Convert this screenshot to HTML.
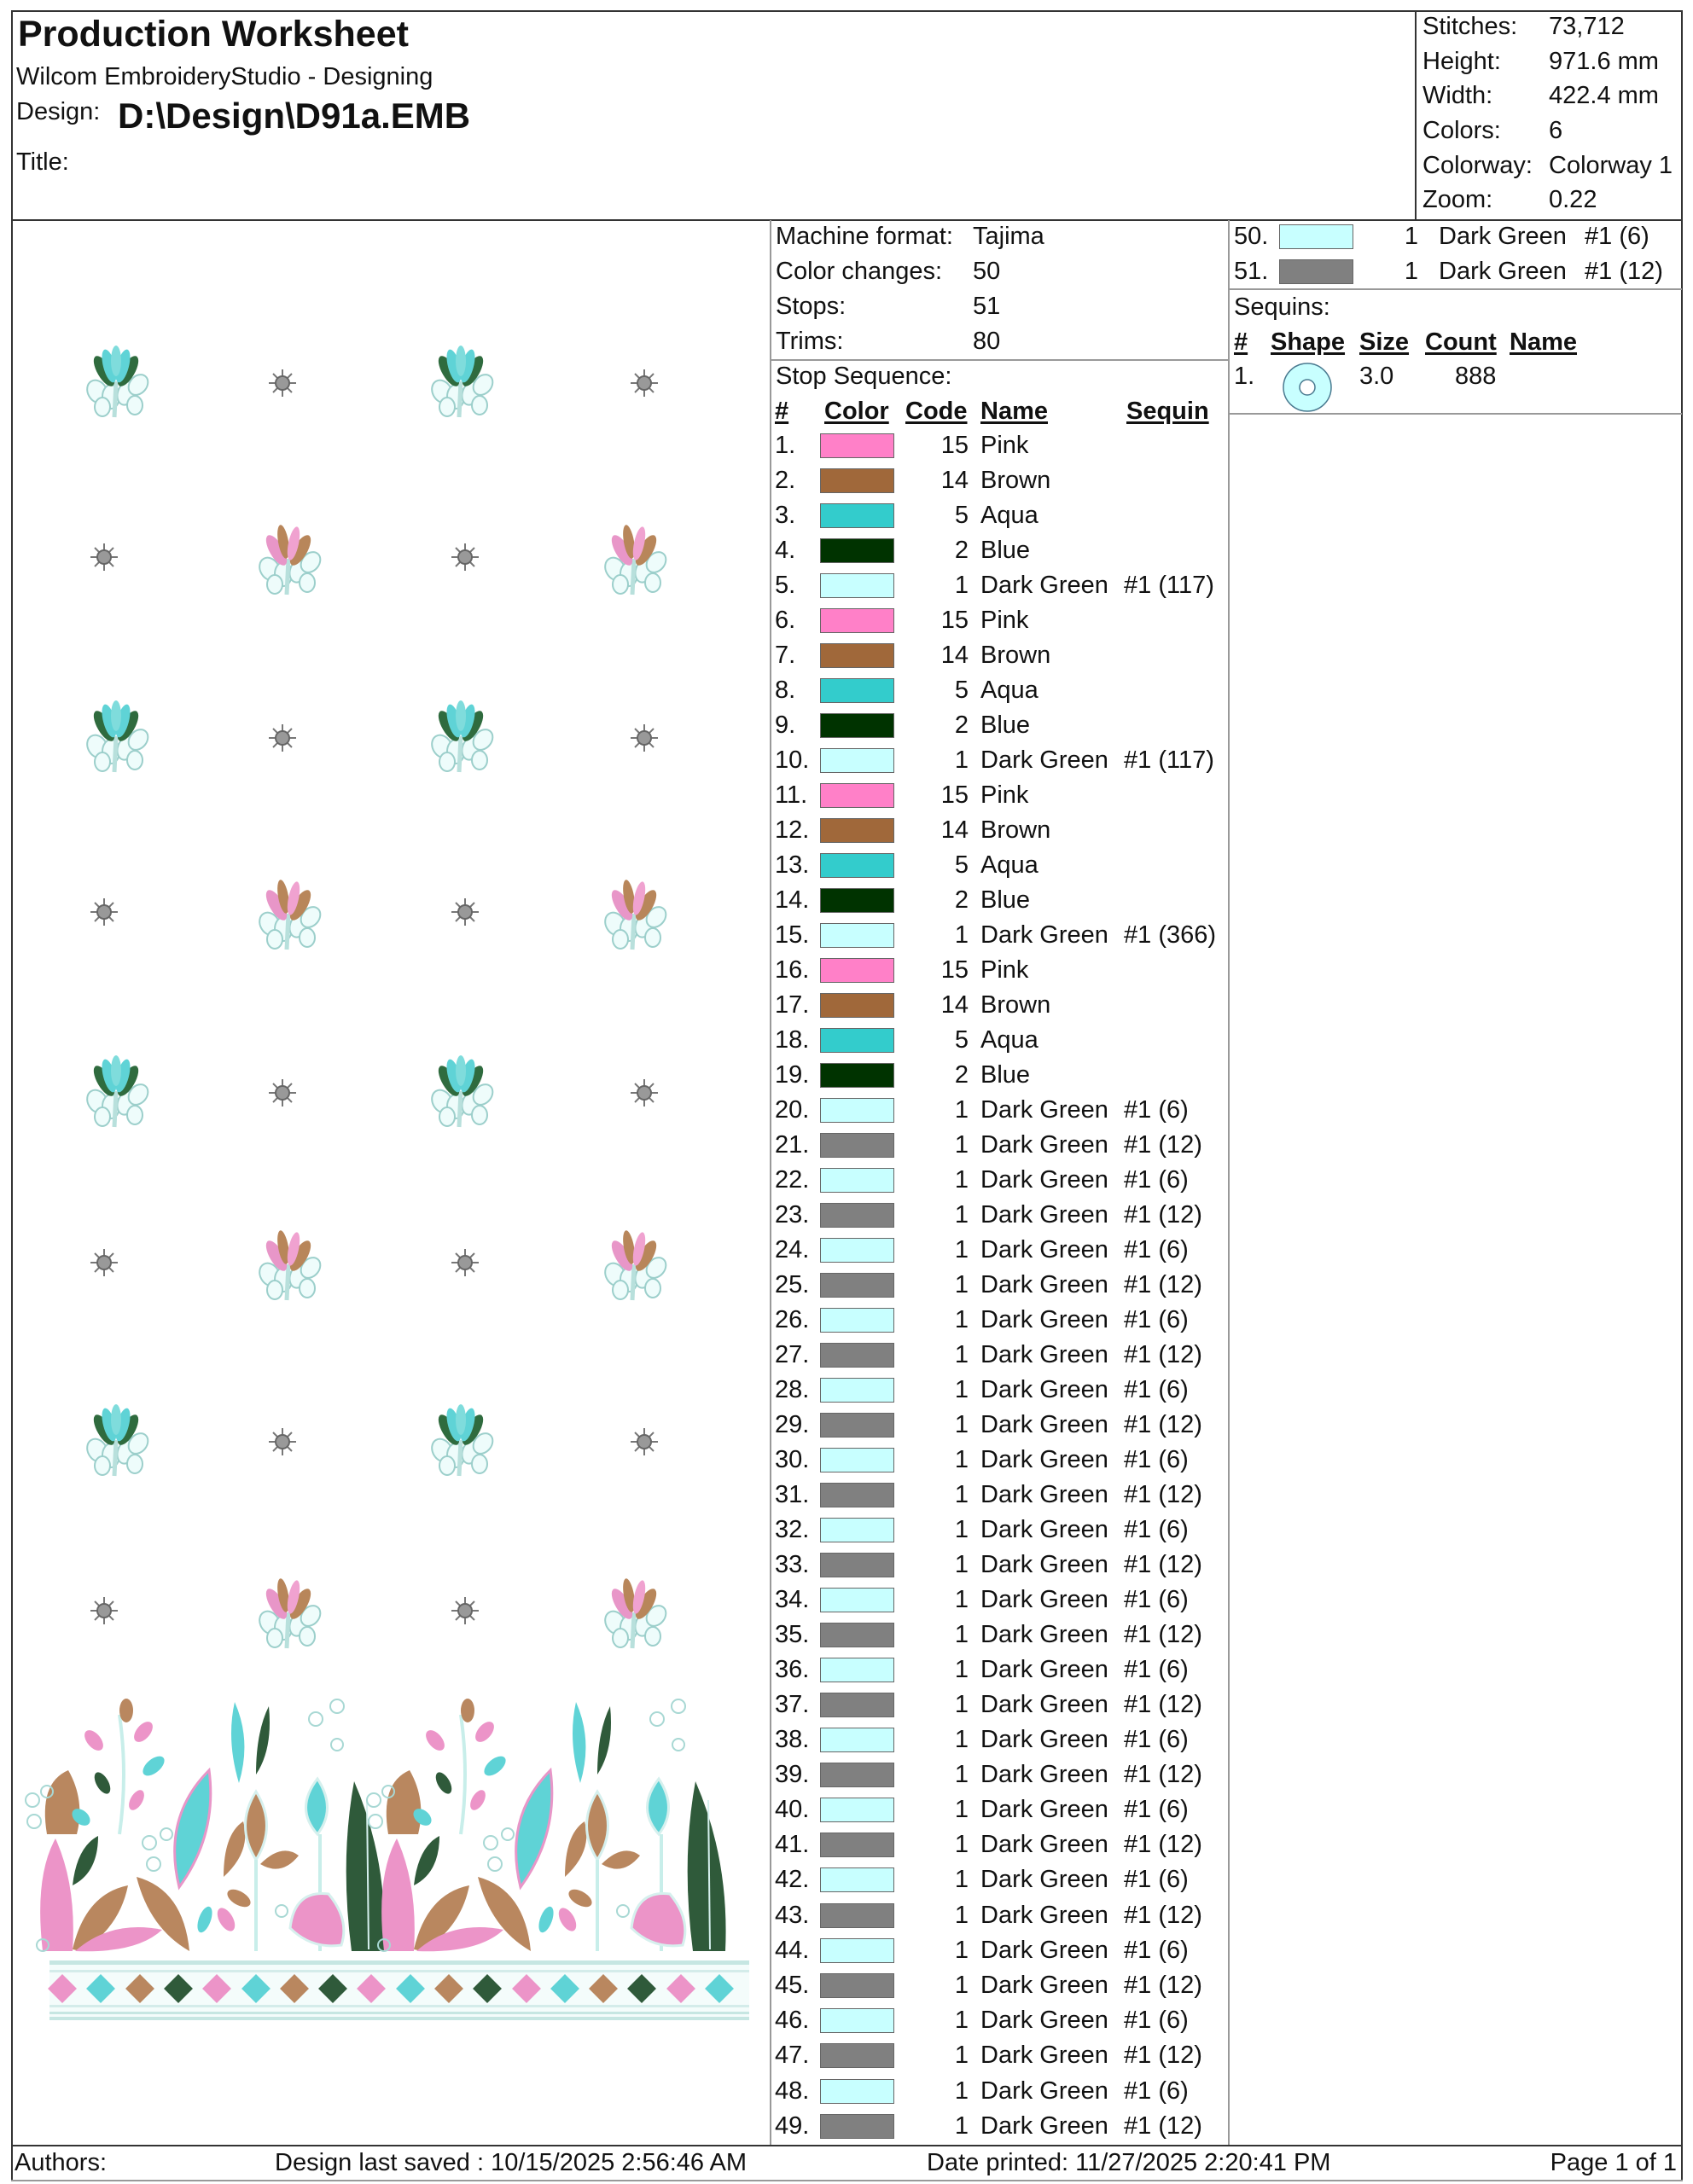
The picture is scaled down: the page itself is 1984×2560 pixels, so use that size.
<!DOCTYPE html>
<html><head><meta charset="utf-8"><style>
html,body{margin:0;padding:0;background:#fff}
body{width:1984px;height:2560px;position:relative;overflow:hidden;font-family:"Liberation Sans",Arial,sans-serif;color:#111}
.t{position:absolute;white-space:nowrap;font-size:29px;line-height:41px}
.ln{position:absolute;background:#333}
.lg{position:absolute;background:#999}
.r{position:absolute;left:0;width:1984px;height:41px;font-size:29px;line-height:41px}
.r span{position:absolute;white-space:nowrap}
.r .n{left:908px}.r .c{left:1075px;width:60px;text-align:right}.r .nm{left:1149px}.r .sq{left:1317px}
.r i{position:absolute;left:961px;top:6px;width:85px;height:27px;border:1px solid #666}
.rr .n{left:1446px}.rr i{left:1499px}.rr .c{left:1602px}.rr .nm{left:1686px}.rr .sq{left:1857px}
.P{background:#ff80c8}.B{background:#a0683a}.A{background:#33cccc}.G{background:#003300}.L{background:#c8ffff}.D{background:#808080}
.h{font-weight:bold;text-decoration:underline;text-decoration-thickness:3px;text-underline-offset:3px}
</style></head><body>
<div class="ln" style="left:13px;top:12px;width:1959px;height:2px"></div>
<div class="ln" style="left:13px;top:12px;width:2px;height:2544px"></div>
<div class="ln" style="left:1970px;top:12px;width:2px;height:2544px"></div>
<div class="ln" style="left:13px;top:257px;width:1959px;height:2px"></div>
<div class="ln" style="left:1658px;top:12px;width:2px;height:246px"></div>
<div class="ln" style="left:13px;top:2514px;width:1959px;height:2px"></div>
<div class="lg" style="left:13px;top:2555px;width:1959px;height:2px"></div>
<div class="lg" style="left:902px;top:258px;width:2px;height:2256px"></div>
<div class="lg" style="left:1439px;top:258px;width:2px;height:2256px"></div>
<div class="lg" style="left:903px;top:421px;width:537px;height:2px"></div>
<div class="lg" style="left:1440px;top:338px;width:531px;height:2px"></div>
<div class="lg" style="left:1440px;top:484px;width:531px;height:2px"></div>

<div class="t" style="left:21px;top:14px;font-size:43px;line-height:52px;font-weight:bold">Production Worksheet</div>
<div class="t" style="left:19px;top:70px">Wilcom EmbroideryStudio - Designing</div>
<div class="t" style="left:19px;top:111px">Design:</div>
<div class="t" style="left:138px;top:111px;font-size:42px;line-height:50px;font-weight:bold">D:\Design\D91a.EMB</div>
<div class="t" style="left:19px;top:170px">Title:</div>

<div class="t" style="left:1667px;top:11px">Stitches:</div><div class="t" style="left:1815px;top:11px">73,712</div>
<div class="t" style="left:1667px;top:52px">Height:</div><div class="t" style="left:1815px;top:52px">971.6 mm</div>
<div class="t" style="left:1667px;top:92px">Width:</div><div class="t" style="left:1815px;top:92px">422.4 mm</div>
<div class="t" style="left:1667px;top:133px">Colors:</div><div class="t" style="left:1815px;top:133px">6</div>
<div class="t" style="left:1667px;top:174px">Colorway:</div><div class="t" style="left:1815px;top:174px">Colorway 1</div>
<div class="t" style="left:1667px;top:214px">Zoom:</div><div class="t" style="left:1815px;top:214px">0.22</div>

<div class="t" style="left:909px;top:257px">Machine format:</div><div class="t" style="left:1140px;top:257px">Tajima</div>
<div class="t" style="left:909px;top:298px">Color changes:</div><div class="t" style="left:1140px;top:298px">50</div>
<div class="t" style="left:909px;top:339px">Stops:</div><div class="t" style="left:1140px;top:339px">51</div>
<div class="t" style="left:909px;top:380px">Trims:</div><div class="t" style="left:1140px;top:380px">80</div>
<div class="t" style="left:909px;top:421px">Stop Sequence:</div>
<div class="t h" style="left:908px;top:462px">#</div>
<div class="t h" style="left:966px;top:462px">Color</div>
<div class="t h" style="left:1061px;top:462px">Code</div>
<div class="t h" style="left:1149px;top:462px">Name</div>
<div class="t h" style="left:1320px;top:462px">Sequin</div>

<div class="r rr" style="top:257px"><span class="n">50.</span><i class="L"></i><span class="c">1</span><span class="nm">Dark Green</span><span class="sq">#1 (6)</span></div>
<div class="r rr" style="top:298px"><span class="n">51.</span><i class="D"></i><span class="c">1</span><span class="nm">Dark Green</span><span class="sq">#1 (12)</span></div>
<div class="t" style="left:1446px;top:340px">Sequins:</div>
<div class="t h" style="left:1446px;top:381px">#</div>
<div class="t h" style="left:1489px;top:381px">Shape</div>
<div class="t h" style="left:1593px;top:381px">Size</div>
<div class="t h" style="left:1670px;top:381px">Count</div>
<div class="t h" style="left:1769px;top:381px">Name</div>
<div class="t" style="left:1446px;top:421px">1.</div>
<div class="t" style="left:1593px;top:421px">3.0</div>
<div class="t" style="left:1705px;top:421px">888</div>
<svg style="position:absolute;left:1500px;top:423px" width="64" height="62"><ellipse cx="32" cy="31" rx="28" ry="28" fill="#c8ffff" stroke="#4a7a90" stroke-width="1.5"/><circle cx="32" cy="31" r="9" fill="#fff" stroke="#4a7a90" stroke-width="1.5"/></svg>

<div class="r" style="top:502px"><span class="n">1.</span><i class="P"></i><span class="c">15</span><span class="nm">Pink</span></div>
<div class="r" style="top:543px"><span class="n">2.</span><i class="B"></i><span class="c">14</span><span class="nm">Brown</span></div>
<div class="r" style="top:584px"><span class="n">3.</span><i class="A"></i><span class="c">5</span><span class="nm">Aqua</span></div>
<div class="r" style="top:625px"><span class="n">4.</span><i class="G"></i><span class="c">2</span><span class="nm">Blue</span></div>
<div class="r" style="top:666px"><span class="n">5.</span><i class="L"></i><span class="c">1</span><span class="nm">Dark Green</span><span class="sq">#1 (117)</span></div>
<div class="r" style="top:707px"><span class="n">6.</span><i class="P"></i><span class="c">15</span><span class="nm">Pink</span></div>
<div class="r" style="top:748px"><span class="n">7.</span><i class="B"></i><span class="c">14</span><span class="nm">Brown</span></div>
<div class="r" style="top:789px"><span class="n">8.</span><i class="A"></i><span class="c">5</span><span class="nm">Aqua</span></div>
<div class="r" style="top:830px"><span class="n">9.</span><i class="G"></i><span class="c">2</span><span class="nm">Blue</span></div>
<div class="r" style="top:871px"><span class="n">10.</span><i class="L"></i><span class="c">1</span><span class="nm">Dark Green</span><span class="sq">#1 (117)</span></div>
<div class="r" style="top:912px"><span class="n">11.</span><i class="P"></i><span class="c">15</span><span class="nm">Pink</span></div>
<div class="r" style="top:953px"><span class="n">12.</span><i class="B"></i><span class="c">14</span><span class="nm">Brown</span></div>
<div class="r" style="top:994px"><span class="n">13.</span><i class="A"></i><span class="c">5</span><span class="nm">Aqua</span></div>
<div class="r" style="top:1035px"><span class="n">14.</span><i class="G"></i><span class="c">2</span><span class="nm">Blue</span></div>
<div class="r" style="top:1076px"><span class="n">15.</span><i class="L"></i><span class="c">1</span><span class="nm">Dark Green</span><span class="sq">#1 (366)</span></div>
<div class="r" style="top:1117px"><span class="n">16.</span><i class="P"></i><span class="c">15</span><span class="nm">Pink</span></div>
<div class="r" style="top:1158px"><span class="n">17.</span><i class="B"></i><span class="c">14</span><span class="nm">Brown</span></div>
<div class="r" style="top:1199px"><span class="n">18.</span><i class="A"></i><span class="c">5</span><span class="nm">Aqua</span></div>
<div class="r" style="top:1240px"><span class="n">19.</span><i class="G"></i><span class="c">2</span><span class="nm">Blue</span></div>
<div class="r" style="top:1281px"><span class="n">20.</span><i class="L"></i><span class="c">1</span><span class="nm">Dark Green</span><span class="sq">#1 (6)</span></div>
<div class="r" style="top:1322px"><span class="n">21.</span><i class="D"></i><span class="c">1</span><span class="nm">Dark Green</span><span class="sq">#1 (12)</span></div>
<div class="r" style="top:1363px"><span class="n">22.</span><i class="L"></i><span class="c">1</span><span class="nm">Dark Green</span><span class="sq">#1 (6)</span></div>
<div class="r" style="top:1404px"><span class="n">23.</span><i class="D"></i><span class="c">1</span><span class="nm">Dark Green</span><span class="sq">#1 (12)</span></div>
<div class="r" style="top:1445px"><span class="n">24.</span><i class="L"></i><span class="c">1</span><span class="nm">Dark Green</span><span class="sq">#1 (6)</span></div>
<div class="r" style="top:1486px"><span class="n">25.</span><i class="D"></i><span class="c">1</span><span class="nm">Dark Green</span><span class="sq">#1 (12)</span></div>
<div class="r" style="top:1527px"><span class="n">26.</span><i class="L"></i><span class="c">1</span><span class="nm">Dark Green</span><span class="sq">#1 (6)</span></div>
<div class="r" style="top:1568px"><span class="n">27.</span><i class="D"></i><span class="c">1</span><span class="nm">Dark Green</span><span class="sq">#1 (12)</span></div>
<div class="r" style="top:1609px"><span class="n">28.</span><i class="L"></i><span class="c">1</span><span class="nm">Dark Green</span><span class="sq">#1 (6)</span></div>
<div class="r" style="top:1650px"><span class="n">29.</span><i class="D"></i><span class="c">1</span><span class="nm">Dark Green</span><span class="sq">#1 (12)</span></div>
<div class="r" style="top:1691px"><span class="n">30.</span><i class="L"></i><span class="c">1</span><span class="nm">Dark Green</span><span class="sq">#1 (6)</span></div>
<div class="r" style="top:1732px"><span class="n">31.</span><i class="D"></i><span class="c">1</span><span class="nm">Dark Green</span><span class="sq">#1 (12)</span></div>
<div class="r" style="top:1773px"><span class="n">32.</span><i class="L"></i><span class="c">1</span><span class="nm">Dark Green</span><span class="sq">#1 (6)</span></div>
<div class="r" style="top:1814px"><span class="n">33.</span><i class="D"></i><span class="c">1</span><span class="nm">Dark Green</span><span class="sq">#1 (12)</span></div>
<div class="r" style="top:1855px"><span class="n">34.</span><i class="L"></i><span class="c">1</span><span class="nm">Dark Green</span><span class="sq">#1 (6)</span></div>
<div class="r" style="top:1896px"><span class="n">35.</span><i class="D"></i><span class="c">1</span><span class="nm">Dark Green</span><span class="sq">#1 (12)</span></div>
<div class="r" style="top:1937px"><span class="n">36.</span><i class="L"></i><span class="c">1</span><span class="nm">Dark Green</span><span class="sq">#1 (6)</span></div>
<div class="r" style="top:1978px"><span class="n">37.</span><i class="D"></i><span class="c">1</span><span class="nm">Dark Green</span><span class="sq">#1 (12)</span></div>
<div class="r" style="top:2019px"><span class="n">38.</span><i class="L"></i><span class="c">1</span><span class="nm">Dark Green</span><span class="sq">#1 (6)</span></div>
<div class="r" style="top:2060px"><span class="n">39.</span><i class="D"></i><span class="c">1</span><span class="nm">Dark Green</span><span class="sq">#1 (12)</span></div>
<div class="r" style="top:2101px"><span class="n">40.</span><i class="L"></i><span class="c">1</span><span class="nm">Dark Green</span><span class="sq">#1 (6)</span></div>
<div class="r" style="top:2142px"><span class="n">41.</span><i class="D"></i><span class="c">1</span><span class="nm">Dark Green</span><span class="sq">#1 (12)</span></div>
<div class="r" style="top:2183px"><span class="n">42.</span><i class="L"></i><span class="c">1</span><span class="nm">Dark Green</span><span class="sq">#1 (6)</span></div>
<div class="r" style="top:2225px"><span class="n">43.</span><i class="D"></i><span class="c">1</span><span class="nm">Dark Green</span><span class="sq">#1 (12)</span></div>
<div class="r" style="top:2266px"><span class="n">44.</span><i class="L"></i><span class="c">1</span><span class="nm">Dark Green</span><span class="sq">#1 (6)</span></div>
<div class="r" style="top:2307px"><span class="n">45.</span><i class="D"></i><span class="c">1</span><span class="nm">Dark Green</span><span class="sq">#1 (12)</span></div>
<div class="r" style="top:2348px"><span class="n">46.</span><i class="L"></i><span class="c">1</span><span class="nm">Dark Green</span><span class="sq">#1 (6)</span></div>
<div class="r" style="top:2389px"><span class="n">47.</span><i class="D"></i><span class="c">1</span><span class="nm">Dark Green</span><span class="sq">#1 (12)</span></div>
<div class="r" style="top:2431px"><span class="n">48.</span><i class="L"></i><span class="c">1</span><span class="nm">Dark Green</span><span class="sq">#1 (6)</span></div>
<div class="r" style="top:2472px"><span class="n">49.</span><i class="D"></i><span class="c">1</span><span class="nm">Dark Green</span><span class="sq">#1 (12)</span></div>

<div class="t" style="left:17px;top:2515px">Authors:</div>
<div class="t" style="left:322px;top:2515px">Design last saved : 10/15/2025 2:56:46 AM</div>
<div class="t" style="left:1086px;top:2515px">Date printed: 11/27/2025 2:20:41 PM</div>
<div class="t" style="left:1815px;top:2515px;width:150px;text-align:right">Page 1 of 1</div>

<svg style="position:absolute;left:0;top:0" width="900" height="2510">
<defs>
<g id="loops" fill="#eefcfb" stroke="#9ccfcb" stroke-width="2">
 <ellipse cx="-22" cy="12" rx="11" ry="14" transform="rotate(-30 -22 12)"/>
 <ellipse cx="-6" cy="18" rx="10" ry="14"/>
 <ellipse cx="12" cy="14" rx="10" ry="14" transform="rotate(20 12 14)"/>
 <ellipse cx="26" cy="4" rx="10" ry="13" transform="rotate(40 26 4)"/>
 <ellipse cx="-16" cy="30" rx="9" ry="11"/>
 <ellipse cx="22" cy="28" rx="9" ry="11"/>
 <path d="M0 0 L-2 42" stroke="#b8e0dc" stroke-width="5" fill="none"/>
</g>
<g id="mt">
 <use href="#loops"/>
 <ellipse cx="-14" cy="-12" rx="8" ry="20" fill="#2f6b3e" transform="rotate(-30 -14 -12)"/>
 <ellipse cx="14" cy="-12" rx="8" ry="20" fill="#2f6b3e" transform="rotate(30 14 -12)"/>
 <ellipse cx="-8" cy="-18" rx="7" ry="20" fill="#5fd3d6" transform="rotate(-15 -8 -18)"/>
 <ellipse cx="8" cy="-18" rx="7" ry="20" fill="#5fd3d6" transform="rotate(15 8 -18)"/>
 <ellipse cx="0" cy="-24" rx="6" ry="18" fill="#7fdcdc"/>
</g>
<g id="mp">
 <use href="#loops"/>
 <ellipse cx="-14" cy="-10" rx="8" ry="20" fill="#e896c8" transform="rotate(-30 -14 -10)"/>
 <ellipse cx="14" cy="-10" rx="8" ry="20" fill="#b8865a" transform="rotate(30 14 -10)"/>
 <ellipse cx="-6" cy="-20" rx="6" ry="20" fill="#b8865a" transform="rotate(-10 -6 -20)"/>
 <ellipse cx="6" cy="-18" rx="6" ry="20" fill="#f0a2d0" transform="rotate(12 6 -18)"/>
</g>
<g id="dt" stroke="#777" stroke-width="2">
 <path d="M0 -16V16M-16 0H16M-11 -11L11 11M-11 11L11 -11"/>
 <circle r="8" fill="#999" stroke="#666"/>
</g>
<g id="fl">
 <path d="M55 2150 Q45 2090 80 2075 Q100 2110 90 2150Z" fill="#b9875f"/>
 <path d="M50 2287 Q40 2200 65 2155 Q90 2210 85 2287Z" fill="#ec94c8"/>
 <path d="M85 2285 Q100 2220 150 2210 Q140 2260 95 2287Z" fill="#b9875f"/>
 <path d="M88 2287 Q130 2250 190 2262 Q160 2290 88 2287Z" fill="#ec94c8"/>
 <path d="M85 2210 Q90 2165 115 2152 Q115 2195 85 2210Z" fill="#2f5a3a"/>
 <path d="M140 2150 Q150 2080 140 2010" stroke="#c8eeea" stroke-width="4" fill="none"/>
 <ellipse cx="110" cy="2040" rx="8" ry="14" fill="#ec94c8" transform="rotate(-40 110 2040)"/>
 <ellipse cx="148" cy="2005" rx="8" ry="14" fill="#b9875f"/>
 <ellipse cx="168" cy="2030" rx="8" ry="14" fill="#ec94c8" transform="rotate(40 168 2030)"/>
 <ellipse cx="180" cy="2070" rx="8" ry="15" fill="#5fd3d6" transform="rotate(50 180 2070)"/>
 <ellipse cx="120" cy="2090" rx="7" ry="14" fill="#2f5a3a" transform="rotate(-30 120 2090)"/>
 <ellipse cx="160" cy="2110" rx="7" ry="13" fill="#ec94c8" transform="rotate(30 160 2110)"/>
 <ellipse cx="95" cy="2130" rx="8" ry="12" fill="#5fd3d6" transform="rotate(-50 95 2130)"/>
 <path d="M210 2212 Q190 2130 245 2075 Q255 2150 210 2212Z" fill="#5fd3d6" stroke="#e896c8" stroke-width="3"/>
 <path d="M160 2200 Q215 2215 222 2287 Q175 2260 160 2200Z" fill="#b9875f"/>
 <path d="M280 2090 Q265 2040 275 1995 Q295 2040 280 2090Z" fill="#5fd3d6"/>
 <path d="M300 2080 Q300 2030 315 2000 Q320 2050 300 2080Z" fill="#2f5a3a"/>
 <path d="M262 2200 Q262 2150 285 2135 Q295 2170 262 2200Z" fill="#b9875f"/>
 <path d="M300 2180 Q275 2140 300 2100 Q325 2140 300 2180Z" fill="#b9875f" stroke="#d6f0ee" stroke-width="3"/>
 <path d="M305 2185 Q330 2160 350 2175 Q330 2200 305 2185Z" fill="#b9875f"/>
 <path d="M372 2150 Q345 2120 372 2085 Q395 2120 372 2150Z" fill="#5fd3d6" stroke="#d6f0ee" stroke-width="3"/>
 <path d="M300 2287 L300 2180" stroke="#c8eeea" stroke-width="4"/>
 <path d="M375 2150 L375 2287" stroke="#c8eeea" stroke-width="4"/>
 <path d="M340 2260 Q345 2215 385 2220 Q410 2250 400 2280 Q365 2285 340 2260Z" fill="#ec94c8" stroke="#d6f0ee" stroke-width="3"/>
 <path d="M412 2287 Q398 2180 415 2088 Q455 2180 450 2287Z" fill="#2f5a3a"/>
 <path d="M430 2110 L432 2285" stroke="#d6f0ee" stroke-width="2"/>
 <ellipse cx="240" cy="2250" rx="7" ry="16" fill="#5fd3d6" transform="rotate(20 240 2250)"/>
 <ellipse cx="265" cy="2250" rx="8" ry="15" fill="#ec94c8" transform="rotate(-30 265 2250)"/>
 <ellipse cx="280" cy="2225" rx="8" ry="15" fill="#b9875f" transform="rotate(-60 280 2225)"/>
 <g fill="none" stroke="#a8d8d4" stroke-width="2">
  <circle cx="38" cy="2110" r="8"/><circle cx="40" cy="2135" r="8"/><circle cx="55" cy="2100" r="7"/>
  <circle cx="175" cy="2160" r="8"/><circle cx="180" cy="2185" r="8"/><circle cx="195" cy="2150" r="7"/>
  <circle cx="370" cy="2015" r="8"/><circle cx="395" cy="2000" r="8"/><circle cx="395" cy="2045" r="7"/>
  <circle cx="330" cy="2240" r="7"/><circle cx="50" cy="2280" r="7"/>
 </g>
</g>
<g id="dm"><rect x="-12" y="-12" width="24" height="24" transform="rotate(45)"/></g>
</defs>

<g>
 <use href="#mt" x="136" y="447"/><use href="#dt" x="331" y="449"/><use href="#mt" x="540" y="447"/><use href="#dt" x="755" y="449"/>
 <use href="#dt" x="122" y="653"/><use href="#mp" x="338" y="655"/><use href="#dt" x="545" y="653"/><use href="#mp" x="743" y="655"/>
 <use href="#mt" x="136" y="863"/><use href="#dt" x="331" y="865"/><use href="#mt" x="540" y="863"/><use href="#dt" x="755" y="865"/>
 <use href="#dt" x="122" y="1069"/><use href="#mp" x="338" y="1071"/><use href="#dt" x="545" y="1069"/><use href="#mp" x="743" y="1071"/>
 <use href="#mt" x="136" y="1279"/><use href="#dt" x="331" y="1281"/><use href="#mt" x="540" y="1279"/><use href="#dt" x="755" y="1281"/>
 <use href="#dt" x="122" y="1480"/><use href="#mp" x="338" y="1482"/><use href="#dt" x="545" y="1480"/><use href="#mp" x="743" y="1482"/>
 <use href="#mt" x="136" y="1688"/><use href="#dt" x="331" y="1690"/><use href="#mt" x="540" y="1688"/><use href="#dt" x="755" y="1690"/>
 <use href="#dt" x="122" y="1888"/><use href="#mp" x="338" y="1890"/><use href="#dt" x="545" y="1888"/><use href="#mp" x="743" y="1890"/>
</g>
<use href="#fl"/><use href="#fl" x="400"/>
<rect x="58" y="2298" width="820" height="70" fill="#f4fcfb"/>
<rect x="58" y="2298" width="820" height="5" fill="#c6e6e2"/>
<rect x="58" y="2309" width="820" height="3" fill="#d4ecea"/>
<rect x="58" y="2350" width="820" height="3" fill="#d4ecea"/>
<rect x="58" y="2358" width="820" height="3" fill="#c6e6e2"/>
<rect x="58" y="2364" width="820" height="4" fill="#c6e6e2"/>
<g>
 <use href="#dm" x="73" y="2331" fill="#ec94c8"/><use href="#dm" x="118" y="2331" fill="#5fd3d6"/><use href="#dm" x="164" y="2331" fill="#b9875f"/><use href="#dm" x="209" y="2331" fill="#2f5a3a"/>
 <use href="#dm" x="254" y="2331" fill="#ec94c8"/><use href="#dm" x="300" y="2331" fill="#5fd3d6"/><use href="#dm" x="345" y="2331" fill="#b9875f"/><use href="#dm" x="390" y="2331" fill="#2f5a3a"/>
 <use href="#dm" x="435" y="2331" fill="#ec94c8"/><use href="#dm" x="481" y="2331" fill="#5fd3d6"/><use href="#dm" x="526" y="2331" fill="#b9875f"/><use href="#dm" x="571" y="2331" fill="#2f5a3a"/>
 <use href="#dm" x="617" y="2331" fill="#ec94c8"/><use href="#dm" x="662" y="2331" fill="#5fd3d6"/><use href="#dm" x="707" y="2331" fill="#b9875f"/><use href="#dm" x="752" y="2331" fill="#2f5a3a"/>
 <use href="#dm" x="798" y="2331" fill="#ec94c8"/><use href="#dm" x="843" y="2331" fill="#5fd3d6"/>
</g>
</svg>
</body></html>
